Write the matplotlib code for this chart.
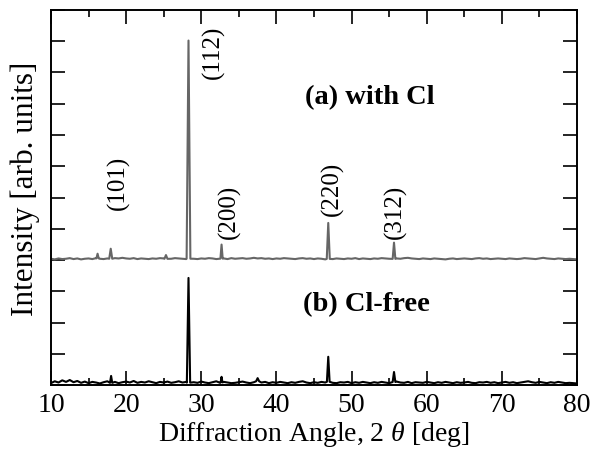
import numpy as np
import matplotlib
matplotlib.use('Agg')
import matplotlib.pyplot as plt
from matplotlib.ticker import MultipleLocator, NullFormatter

plt.rcParams['font.family'] = ['Liberation Serif', 'DejaVu Serif']
plt.rcParams['mathtext.fontset'] = 'custom'
plt.rcParams['mathtext.rm'] = 'Liberation Serif'
plt.rcParams['mathtext.it'] = 'Liberation Serif:italic'

# baseline samples every 0.5 deg, 10..80 (141 values)
grid_step = 0.5
noise_a = [0.04, 0.02, 0.05, 0.03, 0.04, 0.06, 0.03, 0.05, 0.02, 0.04,
           0.05, 0.03, 0.06, 0.04, 0.03, 0.05, 0.04, 0.06, 0.05, 0.07,
           0.05, 0.04, 0.06, 0.03, 0.05, 0.04, 0.03, 0.05, 0.04, 0.06,
           0.05, 0.03, 0.04, 0.06, 0.05, 0.04, 0.03, 0.05, 0.04, 0.03,
           0.05, 0.04, 0.06, 0.05, 0.03, 0.04, 0.05, 0.03, 0.06, 0.04,
           0.05, 0.06, 0.04, 0.05, 0.07, 0.05, 0.06, 0.04, 0.05, 0.03,
           0.05, 0.04, 0.06, 0.05, 0.04, 0.03, 0.05, 0.06, 0.04, 0.05,
           0.03, 0.05, 0.04, 0.02, 0.04, 0.03, 0.05, 0.04, 0.03, 0.05,
           0.04, 0.06, 0.03, 0.05, 0.04, 0.03, 0.05, 0.04, 0.06, 0.05,
           0.04, 0.03, 0.05, 0.04, 0.06, 0.07, 0.05, 0.04, 0.03, 0.05,
           0.04, 0.03, 0.05, 0.04, 0.03, 0.02, 0.04, 0.05, 0.03, 0.04,
           0.05, 0.04, 0.03, 0.05, 0.06, 0.04, 0.05, 0.03, 0.04, 0.05,
           0.04, 0.03, 0.05, 0.04, 0.03, 0.04, 0.06, 0.05, 0.04, 0.03,
           0.05, 0.07, 0.05, 0.04, 0.03, 0.05, 0.04, 0.03, 0.04, 0.03,
           0.02]
noise_b = [0.06, 0.12, 0.08, 0.15, 0.10, 0.16, 0.09, 0.13, 0.07, 0.11,
           0.06, 0.10, 0.08, 0.05, 0.09, 0.12, 0.07, 0.10, 0.06, 0.09,
           0.11, 0.08, 0.13, 0.07, 0.10, 0.08, 0.12, 0.09, 0.06, 0.10,
           0.08, 0.11, 0.07, 0.09, 0.12, 0.08, 0.10, 0.06, 0.09, 0.07,
           0.11, 0.08, 0.06, 0.09, 0.12, 0.07, 0.10, 0.08, 0.06, 0.07,
           0.09, 0.11, 0.08, 0.06, 0.09, 0.12, 0.08, 0.10, 0.06, 0.09,
           0.07, 0.10, 0.08, 0.06, 0.09, 0.07, 0.10, 0.12, 0.08, 0.06,
           0.09, 0.07, 0.10, 0.08, 0.11, 0.07, 0.06, 0.09, 0.08, 0.10,
           0.06, 0.09, 0.07, 0.10, 0.08, 0.06, 0.09, 0.07, 0.10, 0.08,
           0.06, 0.09, 0.11, 0.08, 0.07, 0.10, 0.06, 0.09, 0.08, 0.07,
           0.10, 0.08, 0.06, 0.09, 0.07, 0.10, 0.08, 0.06, 0.09, 0.07,
           0.08, 0.10, 0.07, 0.06, 0.09, 0.08, 0.10, 0.07, 0.09, 0.06,
           0.08, 0.10, 0.07, 0.09, 0.06, 0.08, 0.10, 0.12, 0.09, 0.07,
           0.10, 0.08, 0.06, 0.09, 0.07, 0.10, 0.08, 0.06, 0.07, 0.06,
           0.05]

# peaks: position [deg], height above baseline, half width [deg]
peak_pos_a = [16.2, 17.95, 25.3, 28.3, 32.7, 46.9, 55.65]
peak_h_a = [0.15, 0.32, 0.12, 6.98, 0.45, 1.15, 0.52]
peak_w_a = [0.15, 0.2, 0.2, 0.25, 0.15, 0.2, 0.18]
peak_pos_b = [18.0, 28.3, 32.7, 37.5, 46.9, 55.65]
peak_h_b = [0.22, 3.35, 0.18, 0.1, 0.8, 0.32]
peak_w_b = [0.15, 0.22, 0.12, 0.2, 0.18, 0.18]
offset_a = 4.0

hkl_labels = ['(101)', '(112)', '(200)', '(220)', '(312)']
hkl_x = [18.9, 31.55, 33.7, 47.5, 55.8]
hkl_y = [6.46, 10.66, 5.54, 6.27, 5.54]


def build_trace(noise, pos, h, w, offset):
    gx = list(10 + grid_step * np.arange(len(noise)))
    gy = [offset + v for v in noise]
    pts = []
    for xi, yi in zip(gx, gy):
        # skip grid points that fall inside a peak
        if not any(abs(xi - p) < ww for p, ww in zip(pos, w)):
            pts.append((xi, yi))
    for p, hh, ww in zip(pos, h, w):
        base = np.interp(p, gx, gy)
        pts += [(p - ww, base), (p, base + hh), (p + ww, base)]
    pts.sort()
    return [q[0] for q in pts], [q[1] for q in pts]


xa, ya = build_trace(noise_a, peak_pos_a, peak_h_a, peak_w_a, offset_a)
xb, yb = build_trace(noise_b, peak_pos_b, peak_h_b, peak_w_b, 0.0)

fig = plt.figure(figsize=(5.95, 4.5), dpi=100)
ax = fig.add_axes([0.0857, 0.1444, 0.884, 0.8334])
ax.plot(xa, ya, color='#666666', lw=1.5)
ax.plot(xb, yb, color='black', lw=1.5)

ax.set_xlim(10, 80)
ax.set_ylim(0, 12)
ax.xaxis.set_major_locator(MultipleLocator(10))
ax.xaxis.set_minor_locator(MultipleLocator(5))
ax.yaxis.set_major_locator(MultipleLocator(1))
ax.yaxis.set_major_formatter(NullFormatter())
ax.tick_params(which='both', direction='in', top=True, right=True,
               width=1.2, labelsize=20)
ax.tick_params(which='major', length=10)
ax.tick_params(which='minor', length=5)
ax.tick_params(axis='x', pad=6)
for s in ax.spines.values():
    s.set_linewidth(1.4)

ax.set_xlabel(r'Diffraction Angle, 2 $\theta$ [deg]', fontsize=20, labelpad=1)
ax.set_ylabel('Intensity [arb. units]', fontsize=22.5)
ax.yaxis.set_label_coords(-0.02, 0.523)

for lab, lx, ly in zip(hkl_labels, hkl_x, hkl_y):
    ax.text(lx, ly, lab, rotation=90, ha='center', va='center', fontsize=18)

ax.text(43.8, 9.2, '(a) with Cl', fontsize=20.5, fontweight='bold',
        ha='left', va='center')
ax.text(43.6, 2.56, '(b) Cl-free', fontsize=20.5, fontweight='bold',
        ha='left', va='center')

fig.savefig('out.png', dpi=100)
